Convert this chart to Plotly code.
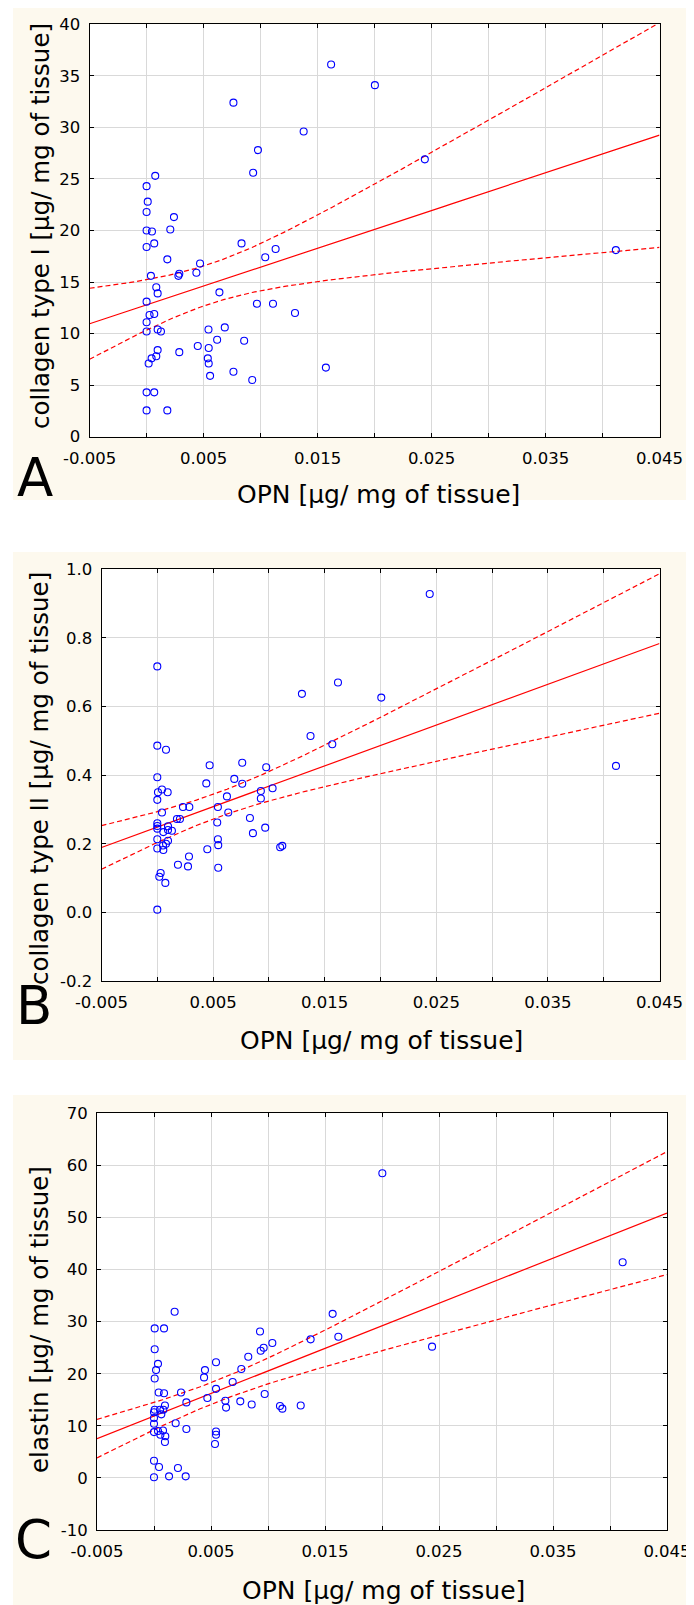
import numpy as np
import plotly.graph_objects as go

W, H = 694, 1605
PAGE_MARGIN = 8          # default <body> margin of the page
FIG_W, FIG_H = W - PAGE_MARGIN, H - PAGE_MARGIN

# ---------------- data ----------------
# Panel A: OPN vs collagen type I
opn_a = [0.00762, 0.01378, 0.00977, 0.00935, 0.00076, 0.0, 0.0001, 0.0, 0.0024, 0.0,
         0.00047, 0.00208, 0.0, 0.00067, 0.00833, 0.01132, 0.01041, 0.00182, 0.00469, 0.00437,
         0.00287, 0.00279, 0.00038, 0.00085, 0.00097, 0.00639, 0.0, 0.00968, 0.01109, 0.01302,
         0.00026, 0.00067, 0.0, 0.0, 0.00097, 0.00126, 0.00543, 0.00686, 0.00619, 0.00856,
         0.00449, 0.00545, 0.00097, 0.00287, 0.00085, 0.00044, 0.00537, 0.00018, 0.00545, 0.00557,
         0.00762, 0.00927, 0.0, 0.00067, 0.0, 0.00182, 0.01619, 0.02003, 0.02441, 0.01573,
         0.04117]
col1 = [32.4, 29.6, 27.8, 25.6, 25.3, 24.3, 22.8, 21.8, 21.3, 20.0,
        19.9, 20.1, 18.4, 18.75, 18.75, 18.2, 17.4, 17.2, 16.8, 15.9,
        15.8, 15.6, 15.6, 14.5, 13.9, 14.0, 13.1, 12.9, 12.9, 12.0,
        11.8, 11.9, 11.1, 10.2, 10.4, 10.2, 10.4, 10.6, 9.4, 9.3,
        8.8, 8.6, 8.4, 8.2, 7.8, 7.6, 7.6, 7.1, 7.1, 5.9,
        6.3, 5.5, 4.3, 4.3, 2.55, 2.55, 36.1, 34.1, 26.9, 6.7,
        18.1]

# Panel B: OPN vs collagen type II
opn_b = [0.0, 0.0, 0.00078, 0.0, 0.00469, 0.00439, 0.00761, 0.0069, 0.00761, 0.00976,
         0.00928, 0.00928, 0.01033, 0.00624, 0.00543, 0.00636, 0.00537, 0.0083, 0.00857, 0.00967,
         0.00543, 0.00546, 0.00448, 0.00546, 0.01101, 0.0112, 0.01296, 0.01373, 0.00042, 0.00006,
         0.00093, 0.0, 0.00042, 0.0023, 0.00287, 0.00176, 0.00203, 0.0, 0.0, 0.0,
         0.00096, 0.00054, 0.00096, 0.00131, 0.0, 0.00096, 0.00078, 0.00051, 0.0, 0.00054,
         0.00185, 0.00284, 0.00275, 0.0003, 0.00018, 0.00072, 0.0, 0.01568, 0.01619, 0.02007,
         0.02441, 0.0411]
col2 = [0.717, 0.486, 0.474, 0.394, 0.429, 0.376, 0.436, 0.389, 0.375, 0.423,
        0.354, 0.332, 0.362, 0.338, 0.307, 0.291, 0.262, 0.275, 0.231, 0.247,
        0.213, 0.196, 0.184, 0.130, 0.190, 0.194, 0.637, 0.514, 0.358, 0.350,
        0.350, 0.328, 0.291, 0.307, 0.307, 0.272, 0.272, 0.260, 0.252, 0.244,
        0.251, 0.234, 0.240, 0.238, 0.213, 0.209, 0.200, 0.195, 0.186, 0.182,
        0.139, 0.163, 0.134, 0.115, 0.104, 0.086, 0.008, 0.490, 0.670, 0.626,
        0.928, 0.427]

# Panel C: OPN vs elastin
opn_c = [0.00181, 0.00006, 0.00088, 0.00006, 0.00035, 0.00018, 0.00006, 0.00041, 0.00088, 0.00237,
         0.00284, 0.00006, 0.0, 0.00053, 0.00096, 0.00082, 0.00064, 0.0, 0.0, 0.0019,
         0.00284, 0.0, 0.00035, 0.00079, 0.00056, 0.00099, 0.00096, 0.0, 0.00044, 0.0021,
         0.0, 0.00132, 0.00278, 0.00447, 0.00439, 0.00468, 0.00544, 0.00544, 0.0069, 0.00766,
         0.00827, 0.0093, 0.00936, 0.00962, 0.01038, 0.00626, 0.00632, 0.00757, 0.00857, 0.00971,
         0.01105, 0.01126, 0.01287, 0.00544, 0.00544, 0.00535, 0.01374, 0.02003, 0.01567, 0.01617,
         0.02439, 0.04111]
elastin = [31.9, 28.7, 28.7, 24.7, 21.9, 20.7, 19.1, 16.4, 16.25, 16.4,
           14.5, 13.1, 12.6, 13.1, 13.9, 13.1, 12.2, 11.5, 10.4, 10.5,
           9.4, 8.8, 9.0, 9.1, 8.3, 8.0, 6.9, 3.3, 2.1, 1.9,
           0.13, 0.3, 0.3, 20.7, 19.3, 15.35, 22.2, 17.1, 18.4, 20.9,
           23.25, 28.1, 24.4, 25.0, 25.9, 14.8, 13.5, 14.7, 14.1, 16.1,
           13.8, 13.3, 13.9, 8.9, 8.3, 6.5, 26.6, 58.5, 31.5, 27.1,
           25.2, 41.4]

# axis ticks / labels
x_tickvals = [-0.005, 0.0, 0.005, 0.01, 0.015, 0.02, 0.025, 0.03, 0.035, 0.04, 0.045]
x_ticktext = ["-0.005", "", "0.005", "", "0.015", "", "0.025", "", "0.035", "", "0.045"]
x_range = [-0.005, 0.045]

ya_tickvals = [0, 5, 10, 15, 20, 25, 30, 35, 40]
ya_ticktext = ["0", "5", "10", "15", "20", "25", "30", "35", "40"]
yb_tickvals = [-0.2, 0.0, 0.2, 0.4, 0.6, 0.8, 1.0]
yb_ticktext = ["-0.2", "0.0", "0.2", "0.4", "0.6", "0.8", "1.0"]
yc_tickvals = [-10, 0, 10, 20, 30, 40, 50, 60, 70]
yc_ticktext = ["-10", "0", "10", "20", "30", "40", "50", "60", "70"]

x_title = "OPN [µg/ mg of tissue]"
y_titles = ["collagen type I [µg/ mg of tissue]",
            "collagen type II [µg/ mg of tissue]",
            "elastin [µg/ mg of tissue]"]
letters = ["A", "B", "C"]

T_CRIT = 2.0  # ~t(0.975, n-2) for n ~ 61

# ---------------- layout geometry (page pixels) ----------------
FONT = "DejaVu Sans"
CREAM = "#FDF9EE"

panels = [
    dict(x=opn_a, y=col1, box=(89.6, 24.3, 659.5, 436.7), yr=[0, 40],
         ytv=ya_tickvals, ytt=ya_ticktext, cream=(13, 8, 690, 500),
         letter=(34.5, 477), ytitle=(40.5, 226.5), xtitle=(378, 495)),
    dict(x=opn_b, y=col2, box=(101.5, 569.3, 659.5, 981.0), yr=[-0.2, 1.0],
         ytv=yb_tickvals, ytt=yb_ticktext, cream=(13, 552, 690, 1060),
         letter=(33.5, 1005), ytitle=(39, 779), xtitle=(381, 1040)),
    dict(x=opn_c, y=elastin, box=(97.0, 1113.3, 667.0, 1530.0), yr=[-10, 70],
         ytv=yc_tickvals, ytt=yc_ticktext, cream=(13, 1095, 694, 1605),
         letter=(33, 1539), ytitle=(39, 1320), xtitle=(383, 1590)),
]


def fx(p):
    return (p - PAGE_MARGIN) / FIG_W


def fy(p):
    return 1 - (p - PAGE_MARGIN) / FIG_H


def fit_band(x, y, xs):
    x = np.asarray(x, float)
    y = np.asarray(y, float)
    n = len(x)
    b, a = np.polyfit(x, y, 1)
    yhat = a + b * xs
    resid = y - (a + b * x)
    s = np.sqrt((resid ** 2).sum() / (n - 2))
    sxx = ((x - x.mean()) ** 2).sum()
    hw = T_CRIT * s * np.sqrt(1.0 / n + (xs - x.mean()) ** 2 / sxx)
    return yhat, yhat - hw, yhat + hw


fig = go.Figure()
shapes = []
annotations = []
xs = np.linspace(x_range[0], x_range[1], 201)

for i, p in enumerate(panels):
    k = "" if i == 0 else str(i + 1)
    xa, ya = "x" + k, "y" + k
    x0, y0, x1, y1 = p["box"]

    yhat, lo, hi = fit_band(p["x"], p["y"], xs)
    for yy, dash in ((lo, "5px,3px"), (hi, "5px,3px"), (yhat, "solid")):
        fig.add_trace(go.Scatter(x=xs, y=yy, mode="lines", xaxis=xa, yaxis=ya,
                                 line=dict(color="#FF0000", width=1.2, dash=dash),
                                 hoverinfo="skip", showlegend=False))
    fig.add_trace(go.Scatter(x=p["x"], y=p["y"], mode="markers", xaxis=xa, yaxis=ya,
                             marker=dict(symbol="circle-open", size=7, color="#0000FF",
                                         line=dict(width=1.1, color="#0000FF")),
                             showlegend=False))

    axis_common = dict(showline=True, linecolor="black", linewidth=1, mirror="ticks",
                       ticks="inside", ticklen=4, tickcolor="black", tickwidth=1,
                       showgrid=True, gridcolor="#D9D9D9", gridwidth=1, zeroline=False,
                       automargin=False,
                       tickfont=dict(family=FONT, size=16.5, color="black"))
    fig.update_layout({
        "xaxis" + k: dict(axis_common, domain=[fx(x0), fx(x1)], range=x_range,
                          tickmode="array", tickvals=x_tickvals, ticktext=x_ticktext,
                          anchor=ya, ticklabelstandoff=6),
        "yaxis" + k: dict(axis_common, domain=[fy(y1), fy(y0)], range=p["yr"],
                          tickmode="array", tickvals=p["ytv"], ticktext=p["ytt"],
                          anchor=xa, ticklabelstandoff=5),
    })

    cx0, cy0, cx1, cy1 = p["cream"]
    shapes.append(dict(type="rect", xref="paper", yref="paper", layer="below",
                       x0=fx(cx0), x1=fx(cx1), y0=fy(cy1), y1=fy(cy0),
                       fillcolor=CREAM, line=dict(width=0)))
    shapes.append(dict(type="rect", xref="paper", yref="paper", layer="below",
                       x0=fx(x0), x1=fx(x1), y0=fy(y1), y1=fy(y0),
                       fillcolor="white", line=dict(width=0)))

    lx, ly = p["letter"]
    annotations.append(dict(text=letters[i], x=fx(lx), y=fy(ly), xref="paper", yref="paper",
                            showarrow=False, xanchor="center", yanchor="middle",
                            font=dict(family=FONT, size=53, color="black")))
    tx, ty = p["ytitle"]
    annotations.append(dict(text=y_titles[i], x=fx(tx), y=fy(ty), xref="paper", yref="paper",
                            showarrow=False, xanchor="center", yanchor="middle", textangle=-90,
                            font=dict(family=FONT, size=24.5, color="black")))
    tx, ty = p["xtitle"]
    annotations.append(dict(text=x_title, x=fx(tx), y=fy(ty), xref="paper", yref="paper",
                            showarrow=False, xanchor="center", yanchor="middle",
                            font=dict(family=FONT, size=25, color="black")))

fig.update_layout(template="none", width=FIG_W, height=FIG_H,
                  margin=dict(l=0, r=0, t=0, b=0),
                  paper_bgcolor="white", plot_bgcolor="rgba(0,0,0,0)",
                  shapes=shapes, annotations=annotations, showlegend=False)

fig.write_html("out.html")
